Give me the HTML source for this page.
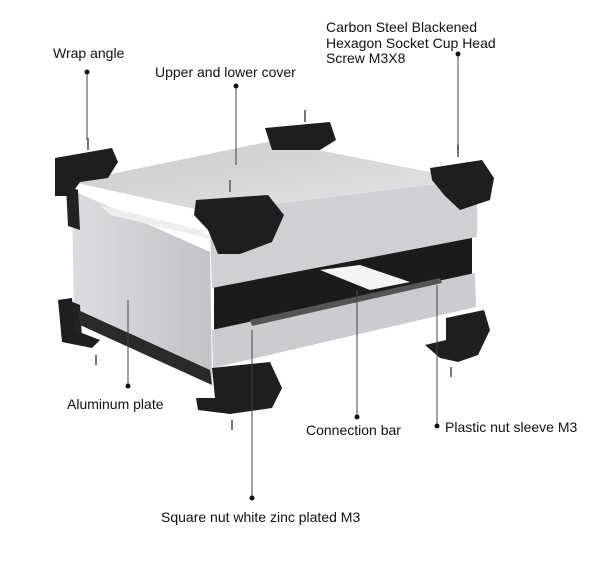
<!DOCTYPE html>
<html><head><style>
html,body{margin:0;padding:0;background:#fff;width:600px;height:574px;overflow:hidden}
svg{display:block}
text{font-family:"Liberation Sans",sans-serif;font-size:14px;fill:#111}
</style></head><body>
<svg width="600" height="574" viewBox="0 0 600 574">
<defs>
<linearGradient id="top" x1="0" y1="0" x2="1" y2="1"><stop offset="0" stop-color="#c9cacc"/><stop offset="1" stop-color="#e4e5e7"/></linearGradient>
<linearGradient id="side" x1="0" y1="0" x2="1" y2="0"><stop offset="0" stop-color="#dcdde0"/><stop offset="1" stop-color="#c2c3c6"/></linearGradient>
</defs>
<polygon points="72,190 210,252 212,382 74,322" fill="url(#side)"/>
<polygon points="66,185 78,190 80,230 68,226" fill="#222"/>
<polygon points="68,300 80,305 82,338 70,334" fill="#222"/>
<polygon points="78,310 210,370 212,385 80,325" fill="#2a2a2a"/>
<polygon points="214,287 472,236 472,275 214,330" fill="#1b1b1b"/>
<polygon points="320,270 360,265 410,282 370,290" fill="#f4f4f4"/>
<polygon points="72,182 272,141 470,180 208,212" fill="url(#top)"/>
<polygon points="100,205 200,230 215,240 110,215" fill="#eee"/>
<polygon points="208,212 470,180 477,185 477,237 212,288 210,232" fill="#cfd0d3"/>
<polygon points="212,330 475,273 476,307 213,368" fill="#cbcccf"/>
<polygon points="250,320 440,278 442,283 252,326" fill="#555"/>
<g fill="#1e1e1e">
<path d="M265,128 L330,122 L336,140 L320,150 L272,150 Z"/>
<path d="M55,158 L112,148 L118,162 L108,178 L80,182 L70,196 L55,196 Z"/>
<path d="M196,200 L268,195 L284,215 L272,242 L240,254 L218,254 L208,230 L194,215 Z"/>
<path d="M430,168 L482,160 L494,178 L490,200 L460,210 L445,196 L432,180 Z"/>
<path d="M58,300 L72,298 L74,330 L100,340 L92,348 L62,342 Z"/>
<path d="M212,368 L270,362 L282,388 L272,408 L230,414 L198,410 L196,398 L215,398 Z"/>
<path d="M446,318 L484,310 L490,330 L478,355 L458,362 L440,358 L425,345 L446,340 Z"/>
</g>
<g fill="#777"><rect x="304" y="110" width="2" height="12"/><rect x="229" y="180" width="2" height="12"/><rect x="87" y="138" width="2" height="12"/><rect x="457" y="145" width="2" height="12"/><rect x="95" y="355" width="2" height="10"/><rect x="231" y="420" width="2" height="10"/><rect x="450" y="367" width="2" height="10"/></g>
<g stroke="#444" stroke-width="1">
<line x1="87" y1="72" x2="87" y2="140"/>
<line x1="236" y1="86" x2="236" y2="165"/>
<line x1="458" y1="54" x2="458" y2="150"/>
<line x1="128" y1="300" x2="128" y2="386"/>
<line x1="357" y1="290" x2="357" y2="417"/>
<line x1="437" y1="285" x2="437" y2="426"/>
<line x1="252" y1="330" x2="252" y2="498"/>
</g>
<g fill="#111">
<circle cx="87" cy="72" r="2.5"/><circle cx="236" cy="86" r="2.5"/><circle cx="458" cy="54" r="2.5"/>
<circle cx="128" cy="386" r="2.5"/><circle cx="357" cy="417" r="2.5"/><circle cx="437" cy="426" r="2.5"/><circle cx="252" cy="498" r="2.5"/>
</g>
<text x="53" y="58">Wrap angle</text>
<text x="155" y="77">Upper and lower cover</text>
<text x="326" y="32">Carbon Steel Blackened</text>
<text x="326" y="48">Hexagon Socket Cup Head</text>
<text x="326" y="63">Screw M3X8</text>
<text x="67" y="409">Aluminum plate</text>
<text x="306" y="435">Connection bar</text>
<text x="445" y="432">Plastic nut sleeve M3</text>
<text x="161" y="522">Square nut white zinc plated M3</text>
</svg>
</body></html>
